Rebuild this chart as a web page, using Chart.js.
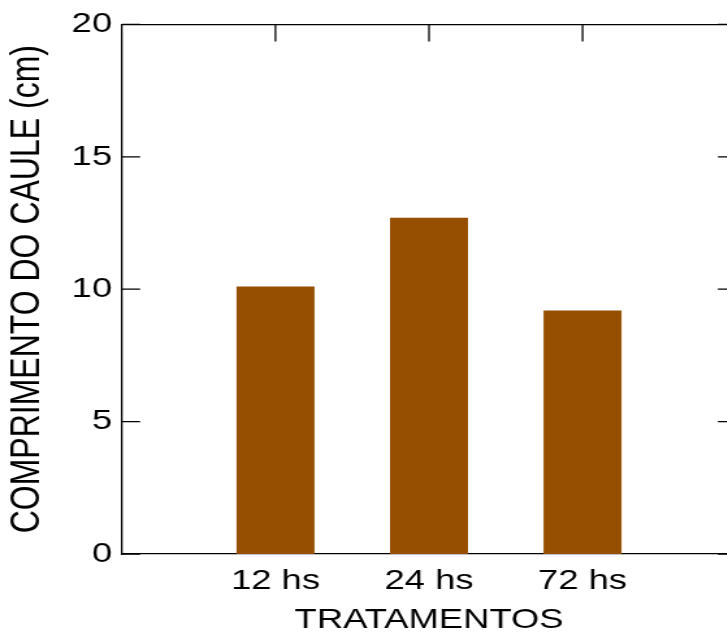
<!DOCTYPE html>
<html>
<head>
<meta charset="utf-8">
<script src="https://cdn.jsdelivr.net/npm/chart.js@4/dist/chart.umd.min.js"></script>
<style>
  html, body { margin: 0; padding: 0; background: #fff; overflow: hidden; }
  #wrap { width: 580px; height: 637px; transform: scaleX(1.3); transform-origin: 0 0; }
</style>
</head>
<body>
<div id="wrap"><canvas id="c"></canvas></div>
<script>
// Stem length by treatment
const categories = ['12 hs', '24 hs', '72 hs'];
const stemLength = [10.1, 12.7, 9.2];
const yTicks = [0, 5, 10, 15, 20];

const FONT = '"Liberation Sans", Arial, Helvetica, sans-serif';

// empty slots on either side so the bars sit at 1, 2, 3 on a 0..4 axis
const labels = [''].concat(categories, ['']);
const values = [null].concat(stemLength, [null]);

// short tick marks pointing into the plot on all four sides
const innerTicks = {
  id: 'innerTicks',
  afterDraw(chart, args, opts) {
    const { ctx, chartArea: a, scales } = chart;
    const x = scales.x, y = scales.y;
    ctx.save();
    ctx.strokeStyle = '#000';
    ctx.lineWidth = 1.3;
    ctx.beginPath();
    yTicks.forEach(v => {
      const py = y.getPixelForValue(v);
      ctx.moveTo(a.left, py);
      ctx.lineTo(a.left + opts.side, py);
      ctx.moveTo(a.right, py);
      ctx.lineTo(a.right - opts.side, py);
    });
    categories.forEach((c, i) => {
      const px = x.getPixelForValue(i + 1);
      ctx.moveTo(px, a.top);
      ctx.lineTo(px, a.top + opts.top);
    });
    ctx.stroke();
    ctx.restore();
  }
};

new Chart(document.getElementById('c'), {
  type: 'bar',
  data: {
    labels: labels,
    datasets: [{
      data: values,
      backgroundColor: '#964F00',
      borderWidth: 0,
      categoryPercentage: 1,
      barPercentage: 0.508
    }]
  },
  options: {
    responsive: true,
    maintainAspectRatio: false,
    animation: false,
    layout: { padding: { top: 22, right: 13.8, left: 0, bottom: 0 } },
    plugins: {
      legend: { display: false },
      tooltip: { enabled: false },
      innerTicks: { side: 14, top: 17 }
    },
    scales: {
      x: {
        type: 'category',
        offset: false,
        grid: { display: false, drawTicks: false },
        border: { display: true, color: '#000', width: 1.3 },
        ticks: {
          color: '#000', font: { family: FONT, size: 28 }, padding: 10,
          maxRotation: 0, autoSkip: false
        },
        title: {
          display: true, text: 'TRATAMENTOS', color: '#000',
          font: { family: FONT, size: 28 }, padding: { top: 0, bottom: 0 }
        },
        afterFit: s => { s.height = 83; }
      },
      x2: {
        type: 'category',
        position: 'top',
        offset: false,
        grid: { display: false, drawTicks: false },
        border: { display: true, color: '#000', width: 1.3 },
        ticks: { display: false },
        afterFit: s => { s.height = 0; }
      },
      y: {
        min: 0, max: 20,
        grid: { display: false, drawTicks: false },
        border: { display: true, color: '#000', width: 1.3 },
        afterBuildTicks: s => { s.ticks = yTicks.map(v => ({ value: v })); },
        ticks: { color: '#000', font: { family: FONT, size: 28 }, padding: 7.6 },
        title: {
          display: true, text: 'COMPRIMENTO DO CAULE (cm)', color: '#000',
          font: { family: FONT, size: 32 }, padding: { top: 2, bottom: 0 }
        },
        afterFit: s => { s.width = 93.8; }
      },
      y2: {
        position: 'right',
        min: 0, max: 20,
        grid: { display: false, drawTicks: false },
        border: { display: true, color: '#000', width: 1.3 },
        ticks: { display: false },
        afterFit: s => { s.width = 0; }
      }
    }
  },
  plugins: [innerTicks]
});
</script>
</body>
</html>
